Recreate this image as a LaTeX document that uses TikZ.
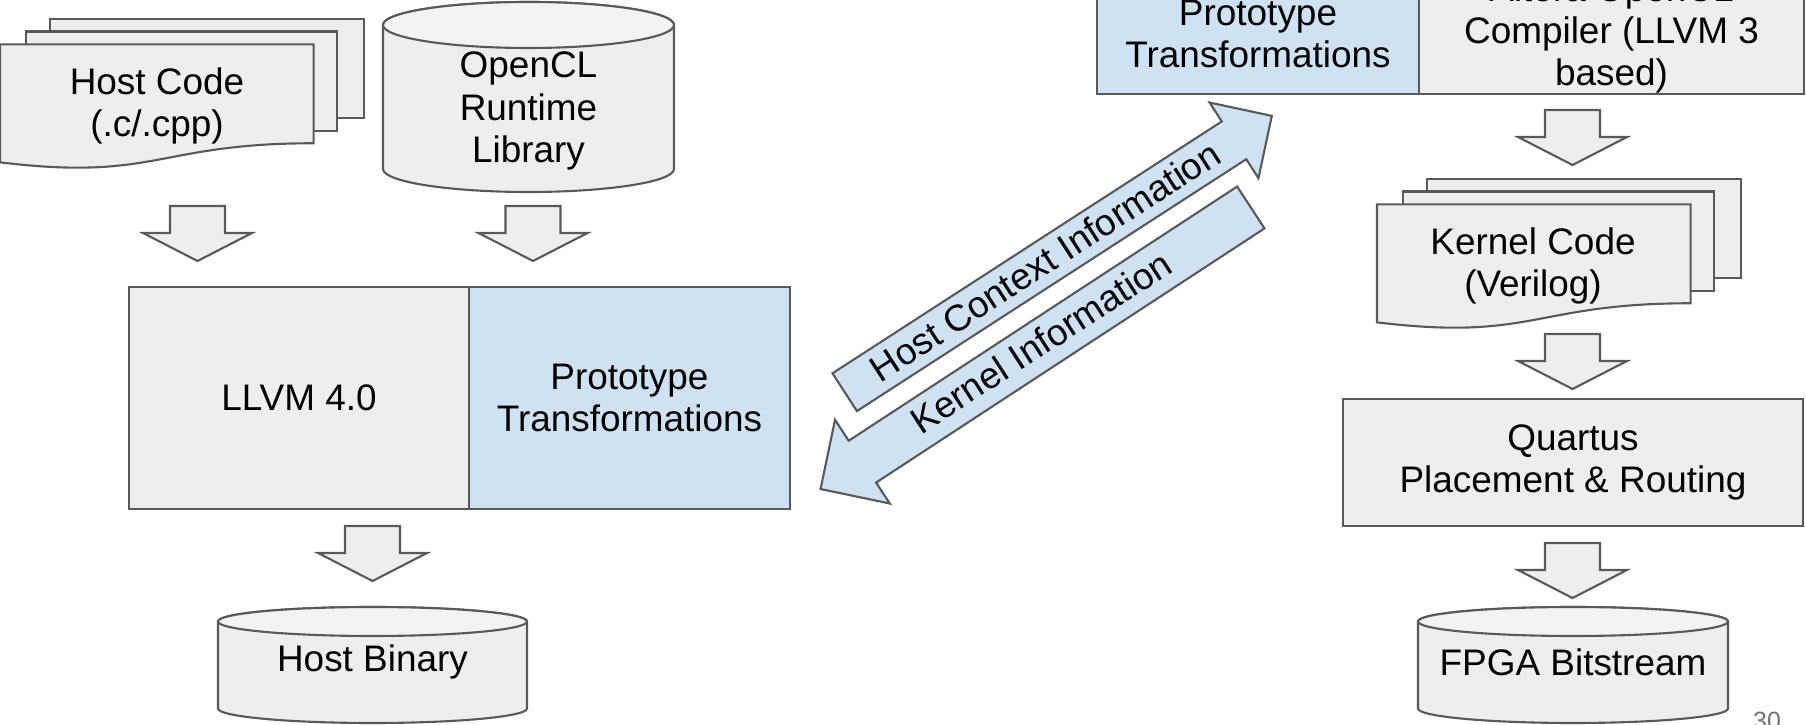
\documentclass[tikz,border=0pt]{standalone}
\usepackage{fontspec}
\setmainfont{Liberation Sans}
\definecolor{boxgray}{HTML}{EEEEEE}
\definecolor{boxblue}{HTML}{CFE2F3}
\definecolor{edgegray}{HTML}{595959}

% drum: centre x, top, bottom, half width, cap depth (px)
\newcommand{\drum}[5]{%
  \filldraw[box] (#1-#4,#2+#5) -- (#1-#4,#3-#5)
    arc[start angle=180, end angle=360, x radius=#4*0.01cm, y radius=#5*0.01cm]
    -- (#1+#4,#2+#5)
    arc[start angle=0, end angle=180, x radius=#4*0.01cm, y radius=#5*0.01cm] -- cycle;
  \draw[box, fill=boxgray!70!white] (#1,#2+#5) ellipse[x radius=#4*0.01cm, y radius=#5*0.01cm];}

% docstack: left, top of the back page (px)
\newcommand{\docstack}[2]{%
  \begin{scope}[shift={(#1,#2)}, x=0.0364cm, y=-0.0149cm]
    \filldraw[box] (13.76,0) rectangle (100,66.63);
    \filldraw[box] (7.09,8.4) rectangle (92.6,75.24);
    \filldraw[box] (0,96.2) .. controls (43.05,109) and (43.05,83.4) .. (86.1,83.4) -- (86.1,17) -- (0,17) -- cycle;
  \end{scope}}

% blockdown: fat down arrow hanging from a named coordinate
\newcommand{\blockdown}[1]{%
  \filldraw[box] (#1) ++(-27.5,0) -- ++(55,0) -- ++(0,27) -- ++(27,0) -- ++(-54.5,28) -- ++(-54.5,-28) -- ++(27,0) -- cycle;}

\begin{document}
\begin{tikzpicture}[x=0.01cm, y=-0.01cm,
  every node/.style={font=\fontsize{10.5}{12}\selectfont, align=center},
  box/.style={draw=edgegray, line width=0.6pt, fill=boxgray},
  part/.style={box, rectangle, inner sep=0pt}]
  \useasboundingbox (0,0) rectangle (1806,725);
  \clip (0,0) rectangle (1806,725);

  % host side
  \docstack{0}{19}
  \node (hostcode) at (157,106) {Host Code\\(.c/.cpp)};
  \drum{528.5}{2}{192}{145.5}{23}
  \node (runtime) at (528.5,111) {OpenCL\\Runtime\\Library};
  \coordinate (d1) at (197.5,206);
  \coordinate (d2) at (533,206);
  \blockdown{d1}
  \blockdown{d2}
  \node (llvm) [part, minimum width=3.4cm, minimum height=2.22cm] at (299,398) {LLVM 4.0};
  \node (proto) [part, fill=boxblue, minimum width=3.21cm, minimum height=2.22cm] at (629.5,398) {Prototype\\Transformations};
  \coordinate (d3) at (372.5,526);
  \blockdown{d3}
  \drum{372.5}{607}{723}{154.5}{14.5}
  \node (hostbin) at (372.5,662) {Host Binary};

  % fpga side
  \node (proto2) [part, fill=boxblue, minimum width=3.22cm, minimum height=1.2cm] at (1258,34) {Prototype\\Transformations};
  \node (altera) [part, minimum width=3.85cm, minimum height=1.2cm] at (1611.5,34) {Altera OpenCL\\Compiler (LLVM 3\\based)};
  \coordinate (d4) at (1572.5,110);
  \blockdown{d4}
  \docstack{1377}{179}
  \node (kernelcode) at (1533,266) {Kernel Code\\(Verilog)};
  \coordinate (d5) at (1572.5,334);
  \blockdown{d5}
  \node (quartus) [part, minimum width=4.6cm, minimum height=1.27cm] at (1573,462.5) {Quartus\\Placement \& Routing};
  \coordinate (d6) at (1572.5,543);
  \blockdown{d6}
  \drum{1573}{607}{723}{155}{14.5}
  \node (bitstream) at (1573,662) {FPGA Bitstream};

  % exchange between the two
  \coordinate (hostside) at (844.7,392.2);
  \coordinate (kernelside) at (1250.8,207.5);
  \begin{scope}[shift={(hostside)}, rotate=32.9]
    \filldraw[box, fill=boxblue] (0,-22.5) -- (463.7,-22.5) -- (463.7,-45) -- (508.7,0) -- (463.7,45) -- (463.7,22.5) -- (0,22.5) -- cycle;
  \end{scope}
  \begin{scope}[shift={(kernelside)}, rotate=213.2]
    \filldraw[box, fill=boxblue] (0,-25) -- (464.2,-25) -- (464.2,-50) -- (514.2,0) -- (464.2,50) -- (464.2,25) -- (0,25) -- cycle;
  \end{scope}
  \node (hostctx) [rotate=33] at (1045,261) {Host Context Information};
  \node (kernelinfo) [rotate=33] at (1041,342) {Kernel Information};

  \node (pagenum) [font=\fontsize{7.1}{8}\selectfont, text=black!55, anchor=base] at (1767,730) {30};
\end{tikzpicture}
\end{document}
